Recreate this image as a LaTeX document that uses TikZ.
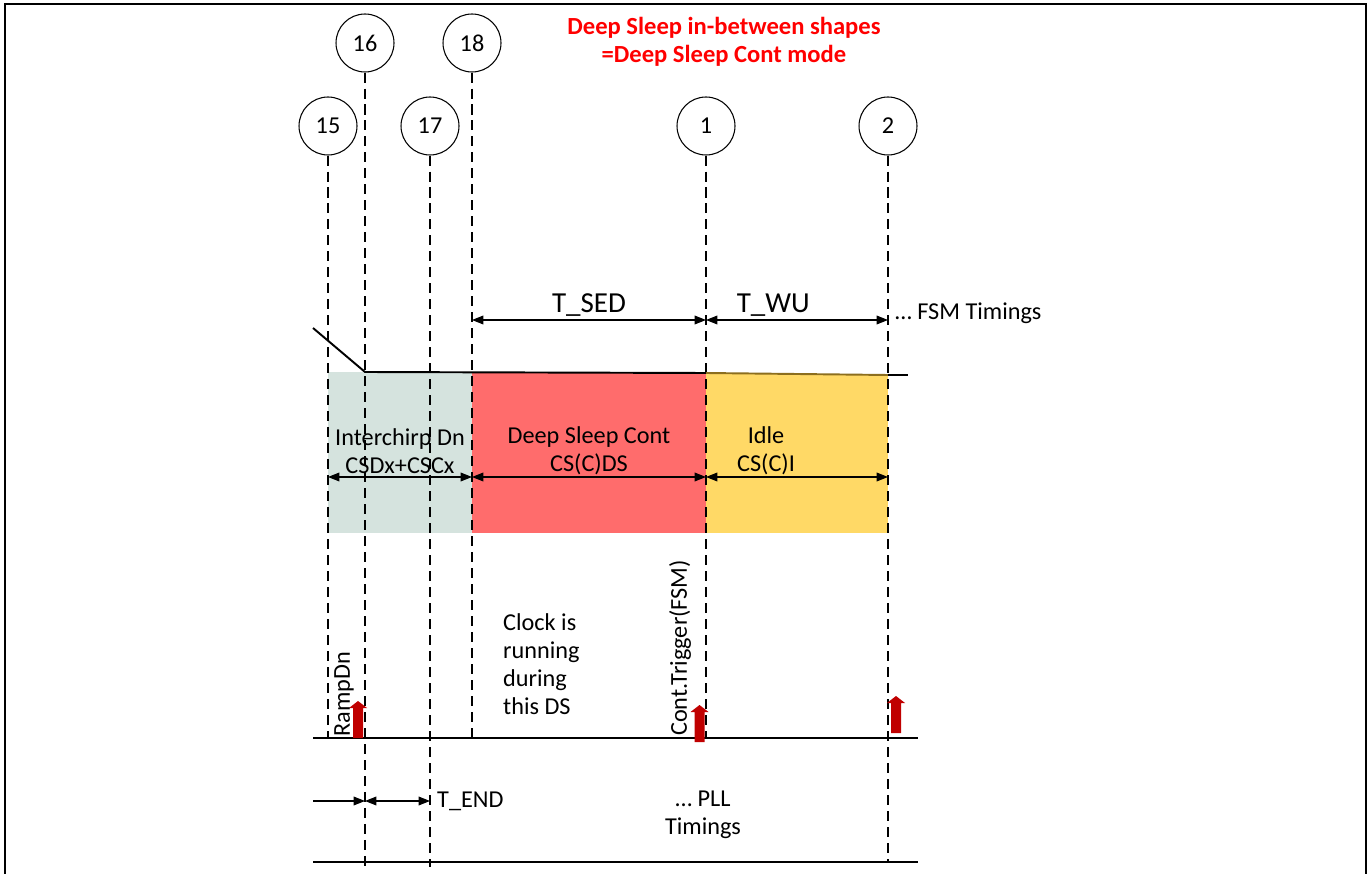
\documentclass[tikz,border=0pt]{standalone}
\usepackage{fontspec}
\setmainfont{Carlito}
\usetikzlibrary{arrows.meta}
\definecolor{icgreen}{RGB}{213,227,222}
\definecolor{dsred}{RGB}{255,108,108}
\definecolor{idleyel}{RGB}{255,217,102}
\definecolor{trigred}{RGB}{192,0,0}
\definecolor{edgegold}{RGB}{140,110,30}
\tikzset{
  numcirc/.style={draw,circle,line width=0.6pt,minimum size=1.16cm,inner sep=0pt},
  dline/.style={line width=0.8pt,dash pattern=on 5.7pt off 3.4pt},
  tarrow/.style={line width=0.6pt,{Triangle[length=6.5pt,width=5pt]}-{Triangle[length=6.5pt,width=5pt]}},
  rarrow/.style={line width=0.6pt,-{Triangle[length=6.5pt,width=5pt]}},
  axis/.style={line width=1pt},
  tlabel/.style={above,inner sep=1.5pt,font=\fontsize{16.5}{19}\selectfont}
}
\begin{document}
\begin{tikzpicture}[x=0.02cm,y=-0.02cm,font=\fontsize{13.8}{15.9}\selectfont]
\useasboundingbox (0,0) rectangle (1369,874);
% frame
\draw[line width=1.2pt] (5,874) -- (5,4) -- (1366,4) -- (1366,874);
% title
\node[text=red,font=\fontsize{14}{15.9}\selectfont\bfseries,align=center] (title) at (724,42) {Deep Sleep in-between shapes\\=Deep Sleep Cont mode};
% state boxes
\fill[icgreen] (328,372) rectangle (472,533);
\fill[dsred] (472,372) rectangle (706,533);
\fill[idleyel] (706,374) rectangle (888,533);
% event circles
\node[numcirc] (c15) at (328,126) {15};
\node[numcirc] (c16) at (365,43) {16};
\node[numcirc] (c17) at (430,126) {17};
\node[numcirc] (c18) at (472,43) {18};
\node[numcirc] (c1) at (706,126) {1};
\node[numcirc] (c2) at (888,126) {2};
\coordinate (fsmbase) at (313,738);
\coordinate (fsmend) at (918,738);
\coordinate (pllbase) at (313,862);
\coordinate (pllend) at (918,862);
\coordinate (lowend) at (0,867);
\draw[dline] (c15) -- (c15 |- fsmbase);
\draw[dline] (c16) -- (c16 |- lowend);
\draw[dline] (c17) -- (c17 |- lowend);
\draw[dline] (c18) -- (c18 |- fsmbase);
\draw[dline] (c1) -- (c1 |- fsmbase);
\draw[dline] (c2) -- (c2 |- pllbase);
% ramp
\coordinate (ramptop) at (313,328);
\coordinate (rampknee) at (365,372);
\coordinate (midend) at (706,373);
\coordinate (rampend) at (908,375);
\draw[line width=1.1pt] (ramptop) -- (rampknee) -- (midend);
\draw[line width=1.1pt,edgegold] (midend) -- (c2 |- rampend);
\draw[line width=1.1pt] (c2 |- rampend) -- (rampend);
% FSM timings
\coordinate (fsmy) at (0,320);
\draw[tarrow] (c18 |- fsmy) -- node[tlabel] (tsed) {T\_SED} (c1 |- fsmy);
\draw[tarrow] (c1 |- fsmy) -- node[tlabel,pos=0.37] (twu) {T\_WU} (c2 |- fsmy);
\node[anchor=west] (fsmt) at (889,313) {… FSM Timings};
% state widths
\coordinate (midy) at (0,477);
\draw[tarrow] (c15 |- midy) -- (c18 |- midy);
\draw[tarrow] (c18 |- midy) -- (c1 |- midy);
\draw[tarrow] (c1 |- midy) -- (c2 |- midy);
\node[align=center] (icdn) at (400,451) {Interchirp Dn\\CSDx+CSCx};
\node[align=center] (dscont) at (589,451) {Deep Sleep Cont\\CS(C)DS};
\node[align=center] (idle) at (766,451) {Idle\\CS(C)I};
% axes
\draw[axis] (fsmbase) -- (fsmend);
\draw[axis] (pllbase) -- (pllend);
% triggers
\foreach \tx/\ty in {358/738,699.5/742,896/733}{
  \fill[trigred,shift={(\tx,\ty)}] (-5,0) -- (5,0) -- (5,-30) -- (9,-30) -- (0,-37) -- (-9,-30) -- (-5,-30) -- cycle;
}
\node[rotate=90] (rampdn) at (344,694) {RampDn};
\node[rotate=90] (conttrig) at (680,648) {Cont.Trigger(FSM)};
\node[align=left,anchor=west] (clock) at (497,664) {Clock is\\running\\during\\this DS};
% PLL timings
\coordinate (plly) at (0,801);
\coordinate (pllstart) at (313,801);
\draw[rarrow] (pllstart) -- (c16 |- plly);
\draw[tarrow] (c16 |- plly) -- (c17 |- plly);
\node[anchor=west] (tend) at (431,801) {T\_END};
\node[align=center] (pllt) at (703,815) {… PLL\\Timings};
\end{tikzpicture}
\end{document}
